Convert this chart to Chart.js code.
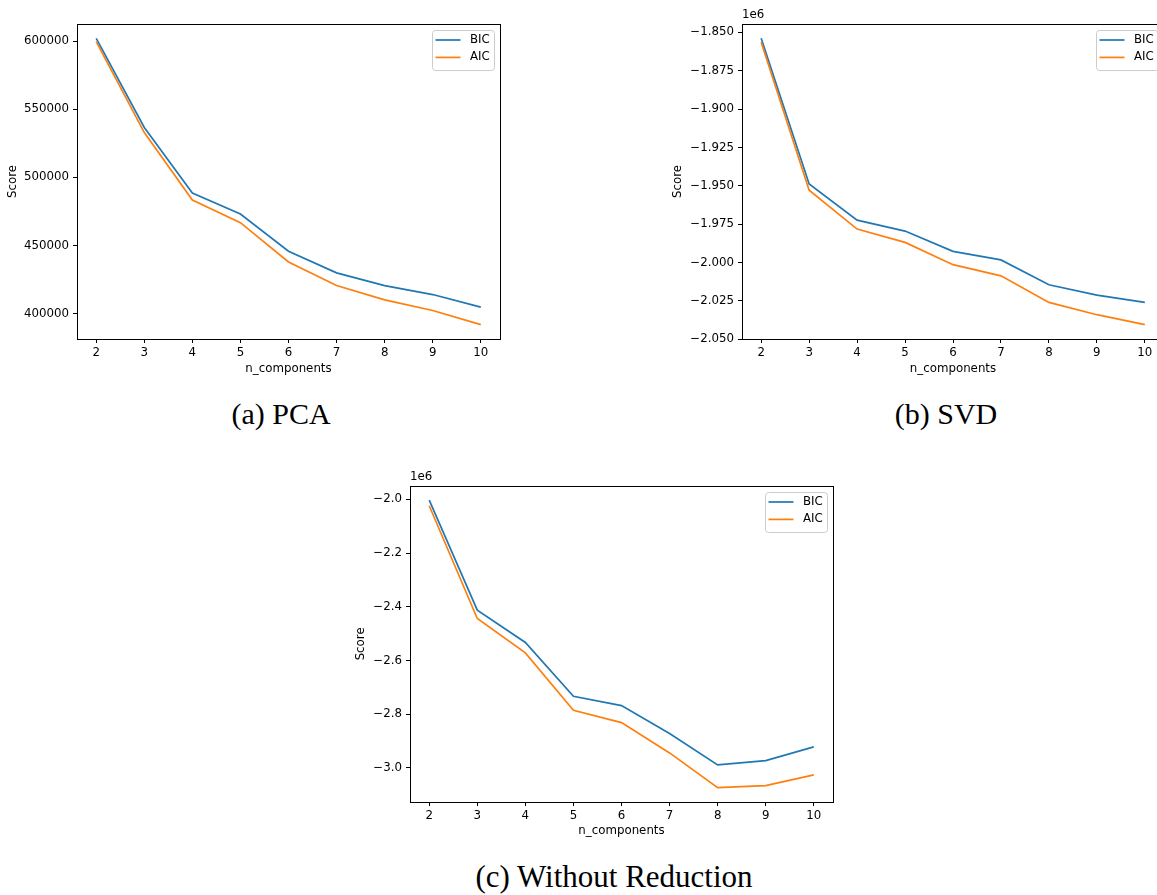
<!DOCTYPE html>
<html>
<head>
<meta charset="utf-8">
<script src="https://cdn.jsdelivr.net/npm/chart.js@4.4.1/dist/chart.umd.min.js"></script>
<style>
  body { margin: 0; width: 1157px; height: 895px; overflow: hidden; background: #fff; position: relative; }
  canvas { position: absolute; }
  .cap { position: absolute; width: 400px; text-align: center; font: 30px "Liberation Serif", serif; line-height: 30px; color: #000; }
</style>
</head>
<body>
<canvas id="pca" width="510" height="380" style="left:0;top:0"></canvas>
<canvas id="svd" width="504" height="380" style="left:660px;top:0"></canvas>
<canvas id="raw" width="503" height="382" style="left:340px;top:460px"></canvas>
<div class="cap" style="left:81px;top:399px">(a) PCA</div>
<div class="cap" style="left:746px;top:399px">(b) SVD</div>
<div class="cap" style="left:414px;top:862px;font-size:31px">(c) Without Reduction</div>
<script>
const nComponents = [2, 3, 4, 5, 6, 7, 8, 9, 10];

const pcaBIC = [602000, 536600, 488500, 473200, 445900, 430000, 420700, 414100, 404900];
const pcaAIC = [599500, 532900, 483400, 466800, 438000, 420700, 410200, 402400, 392000];

const svdBIC = [-1853900, -1948800, -1972400, -1979500, -1992700, -1998300, -2014500, -2021200, -2026000];
const svdAIC = [-1856500, -1952900, -1978200, -1986900, -2001400, -2008700, -2026000, -2034000, -2040500];

const rawBIC = [-2002500, -2412400, -2532900, -2732900, -2767700, -2872000, -2988800, -2972700, -2921700];
const rawAIC = [-2023600, -2443500, -2571400, -2785100, -2831100, -2944100, -3073300, -3065800, -3026100];

const pcaTicks = [400000, 450000, 500000, 550000, 600000];
const svdTicks = [-2050000, -2025000, -2000000, -1975000, -1950000, -1925000, -1900000, -1875000, -1850000];
const rawTicks = [-3000000, -2800000, -2600000, -2400000, -2200000, -2000000];

const BLUE = '#1f77b4', ORANGE = '#ff7f0e';
const FONT = 'DejaVu Sans';
const FSIZE = 11.8;
const minus = s => s.replace('-', '\u2212');

// axes frame, offset label and an in-plot legend box
function framePlugin(offsetText) {
  return {
    id: 'frame',
    afterDatasetsDraw(chart) {
      const { ctx, chartArea: a } = chart;
      ctx.save();
      const l = Math.round(a.left), t = Math.round(a.top), r = Math.round(a.right), b = Math.round(a.bottom);
      ctx.strokeStyle = '#000';
      ctx.lineWidth = 1;
      ctx.strokeRect(l + 0.5, t + 0.5, r - l, b - t);

      ctx.font = `${FSIZE}px ${FONT}`;
      ctx.fillStyle = '#000';
      ctx.textAlign = 'left';
      ctx.textBaseline = 'middle';
      if (offsetText) ctx.fillText(offsetText, a.left, a.top - 9);

      const w = 62, h = 40, x = Math.round(a.right - 6 - w), y = Math.round(a.top + 6);
      ctx.beginPath();
      ctx.roundRect(x + 0.5, y + 0.5, w, h, 3);
      ctx.fillStyle = 'rgba(255,255,255,0.8)';
      ctx.fill();
      ctx.strokeStyle = '#cccccc';
      ctx.stroke();
      chart.data.datasets.forEach((ds, i) => {
        const ry = y + 10 + i * 17.4;
        ctx.beginPath();
        ctx.moveTo(x + 3.5, ry);
        ctx.lineTo(x + 28.5, ry);
        ctx.strokeStyle = ds.borderColor;
        ctx.lineWidth = 1.7;
        ctx.stroke();
        ctx.fillStyle = '#000';
        ctx.fillText(ds.label, x + 38, ry);
      });
      ctx.restore();
    }
  };
}

function makeChart(id, bic, aic, opts) {
  const all = bic.concat(aic);
  const lo = Math.min(...all), hi = Math.max(...all), pad = (hi - lo) * 0.05;
  const font = { family: FONT, size: FSIZE };
  new Chart(document.getElementById(id), {
    type: 'line',
    data: {
      datasets: [
        { label: 'BIC', data: nComponents.map((n, i) => ({ x: n, y: bic[i] })), borderColor: BLUE, borderWidth: 1.7, pointRadius: 0, order: 1 },
        { label: 'AIC', data: nComponents.map((n, i) => ({ x: n, y: aic[i] })), borderColor: ORANGE, borderWidth: 1.7, pointRadius: 0, order: 0 }
      ]
    },
    options: {
      responsive: false,
      animation: false,
      devicePixelRatio: 1,
      layout: { padding: { top: opts.top, right: opts.right, left: 0, bottom: 0 } },
      plugins: { legend: { display: false }, tooltip: { enabled: false } },
      scales: {
        x: {
          type: 'linear', min: 1.6, max: 10.4,
          afterBuildTicks: s => { s.ticks = nComponents.map(v => ({ value: v })); },
          afterFit: s => { s.height = opts.xh; },
          grid: { drawOnChartArea: false, tickLength: 4, color: '#000' },
          border: { display: false },
          ticks: { color: '#000', padding: 3, font, maxRotation: 0 },
          title: { display: true, text: 'n_components', color: '#000', font, padding: { top: 0, bottom: 4 } }
        },
        y: {
          min: lo - pad, max: hi + pad,
          afterBuildTicks: s => { s.ticks = opts.yTicks.map(v => ({ value: v })); },
          afterFit: s => { s.width = opts.yw; },
          grid: { drawOnChartArea: false, tickLength: 4, color: '#000' },
          border: { display: false },
          ticks: { color: '#000', padding: 4, font, callback: opts.fmt },
          title: { display: true, text: 'Score', color: '#000', font, padding: { top: opts.tp, bottom: 0 } }
        }
      }
    },
    plugins: [framePlugin(opts.offset)]
  });
}

makeChart('pca', pcaBIC, pcaAIC, {
  top: 24, right: 10, xh: 41, yw: 77, tp: 6.2, yTicks: pcaTicks,
  fmt: v => String(v)
});
makeChart('svd', svdBIC, svdAIC, {
  top: 24, right: 0, xh: 41, yw: 82, tp: 10.9, yTicks: svdTicks, offset: '1e6',
  fmt: v => minus((v / 1e6).toFixed(3))
});
makeChart('raw', rawBIC, rawAIC, {
  top: 25.7, right: 10, xh: 40, yw: 70, tp: 13.6, yTicks: rawTicks, offset: '1e6',
  fmt: v => minus((v / 1e6).toFixed(1))
});
</script>
</body>
</html>
